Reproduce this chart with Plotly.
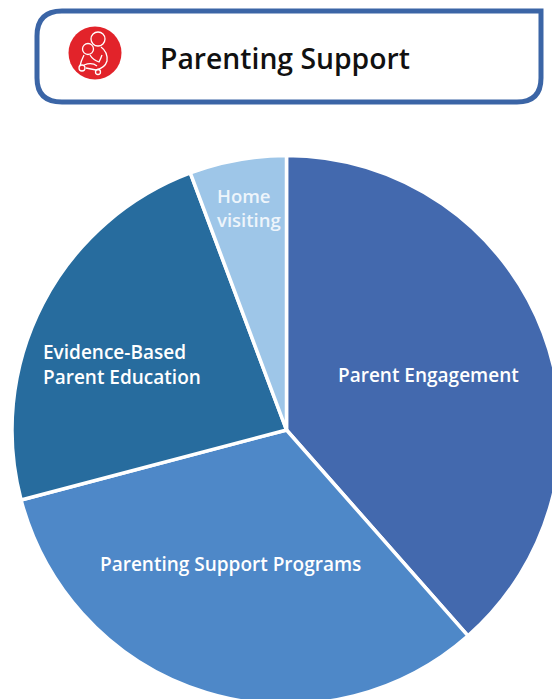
import plotly.graph_objects as go

categories = ["Parent Engagement", "Parenting Support Programs", "Evidence-Based Parent Education", "Home visiting"]
shares = [38.5, 32.4, 23.4, 5.7]
colors = ["#4369AE", "#4E88C8", "#276C9E", "#9EC6E8"]
display = ["Parent Engagement", "Parenting Support Programs", "Evidence-Based<br>Parent Education", "Home<br>visiting"]
title = "Parenting Support"

W, H = 566, 708
CX, CY, R = 286.5, 430, 274.5

def px(x):
    return x / W

def py(y):
    return 1 - y / H

fig = go.Figure(go.Pie(
    labels=categories, values=shares, sort=False, direction="clockwise", rotation=0,
    marker=dict(colors=colors, line=dict(color="white", width=3.5)),
    textinfo="none", hoverinfo="label+percent", showlegend=False,
    domain=dict(x=[px(CX - R), px(CX + R)], y=[py(CY + R), py(CY - R)]),
))

label_pos = [(428, 375, "center"), (230, 564, "center"), (41, 364, "left"), (215, 207, "left")]
annotations = []
for text, (x, y, anchor) in zip(display, label_pos):
    annotations.append(dict(
        x=px(x), y=py(y), xref="paper", yref="paper", text=text, showarrow=False,
        xanchor=anchor, yanchor="middle", align=anchor,
        font=dict(family="Open Sans", size=19, color="white", weight=600),
    ))
annotations[3]["font"] = dict(family="Open Sans", size=18.5, color="#EEF5FB", weight=600)
annotations.append(dict(
    x=px(158), y=py(58), xref="paper", yref="paper", text=title, showarrow=False,
    xanchor="left", yanchor="middle",
    font=dict(family="Open Sans", size=28.3, color="#111111", weight=600),
))

def xy(x, y):
    return f"{px(x):.5f},{py(y):.5f}"

box = (f"M {xy(62, 11)} L {xy(541, 11)} L {xy(541, 78)} Q {xy(541, 102)} {xy(517, 102)} "
       f"L {xy(62, 102)} Q {xy(37, 102)} {xy(37, 78)} L {xy(37, 36)} Q {xy(37, 11)} {xy(62, 11)} Z")

def circle(cx, cy, r, fill, line, lw):
    return dict(type="circle", xref="paper", yref="paper",
                x0=px(cx - r), x1=px(cx + r), y0=py(cy + r), y1=py(cy - r),
                fillcolor=fill, line=dict(color=line, width=lw))

def stroke(d):
    return dict(type="path", xref="paper", yref="paper", path=d,
                line=dict(color="white", width=1.3), fillcolor="rgba(0,0,0,0)")

shapes = [
    dict(type="path", xref="paper", yref="paper", path=box, fillcolor="white",
         line=dict(color="#3B65A6", width=5)),
    circle(95, 53, 26.5, "#E2232A", "#E2232A", 0),
    circle(98, 39, 7, "rgba(0,0,0,0)", "white", 1.3),
    circle(88, 49, 5.5, "rgba(0,0,0,0)", "white", 1.3),
    circle(82, 68, 3, "rgba(0,0,0,0)", "white", 1.3),
    circle(98, 72, 2.5, "rgba(0,0,0,0)", "white", 1.3),
    stroke(f"M {xy(101, 47)} Q {xy(108, 52)} {xy(107, 61)} Q {xy(105, 68)} {xy(96, 70)} L {xy(86, 68)}"),
    stroke(f"M {xy(84, 55)} Q {xy(81, 61)} {xy(80, 66)}"),
    stroke(f"M {xy(90, 55)} Q {xy(93, 60)} {xy(99, 62)} Q {xy(101, 58)} {xy(102, 55)}"),
    stroke(f"M {xy(84, 65)} Q {xy(92, 62)} {xy(97, 66)}"),
]

fig.update_layout(
    width=W, height=H, margin=dict(l=0, r=0, t=0, b=0),
    paper_bgcolor="white", plot_bgcolor="white",
    shapes=shapes, annotations=annotations,
)

fig.write_html("out.html", config=dict(displayModeBar=False),
               post_script="document.documentElement.style.overflow='hidden';document.body.style.overflow='hidden';document.body.style.margin='0';")
